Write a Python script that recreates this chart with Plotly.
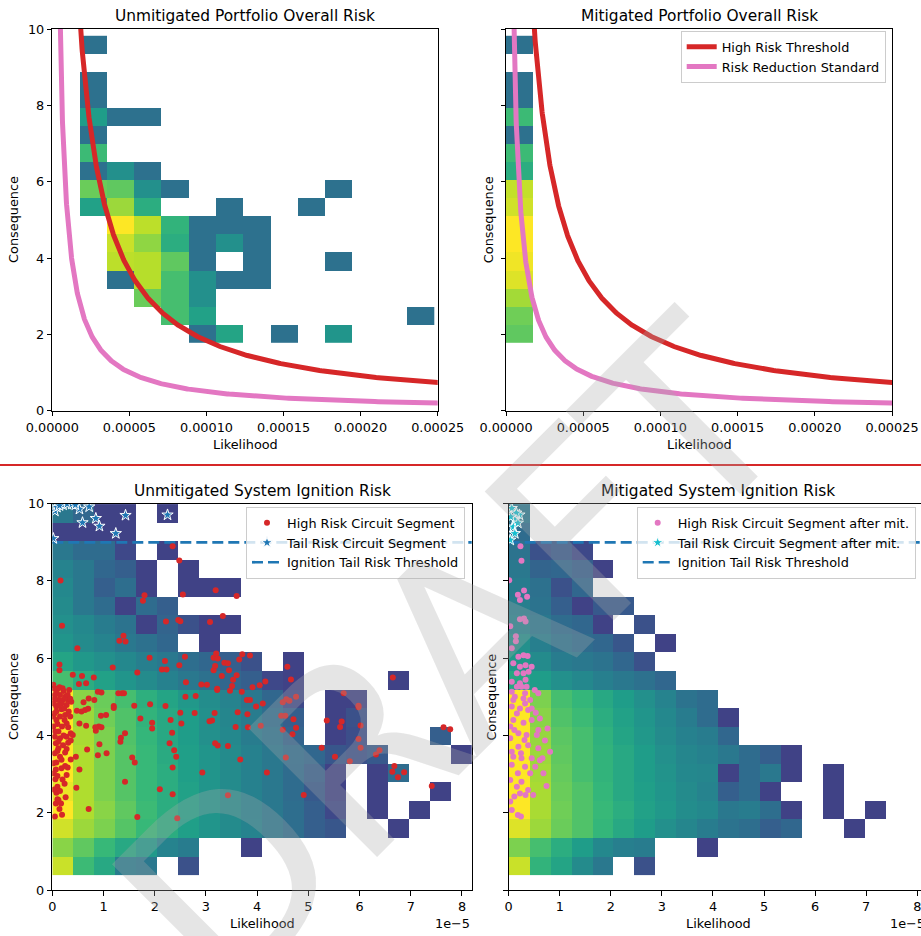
import numpy as np
import plotly.graph_objects as go

W, H = 921, 936
FONT = "DejaVu Sans"
N = None

# ---------------- data ----------------
# Portfolio 2D histogram grid (likelihood x consequence)
PORTFOLIO_BIN_W = 1.768e-5
PORTFOLIO_Y0 = 1.79
PORTFOLIO_BIN_H = 0.4725
# colour level (viridis position) per cell, rows listed top -> bottom
UNMIT_PORTFOLIO = [
    [N, .37, N, N, N, N, N, N, N, N, N, N, N, N],
    [N, N, N, N, N, N, N, N, N, N, N, N, N, N],
    [N, .37, N, N, N, N, N, N, N, N, N, N, N, N],
    [N, .37, N, N, N, N, N, N, N, N, N, N, N, N],
    [N, .55, .37, .37, N, N, N, N, N, N, N, N, N, N],
    [N, .37, N, N, N, N, N, N, N, N, N, N, N, N],
    [N, .68, N, N, N, N, N, N, N, N, N, N, N, N],
    [N, .37, .50, .37, N, N, N, N, N, N, N, N, N, N],
    [N, .77, .75, .50, .37, N, N, N, N, N, .37, N, N, N],
    [N, .57, .85, .62, N, N, .37, N, N, .37, N, N, N, N],
    [N, N, 1.0, .90, .65, .37, .37, .37, N, N, N, N, N, N],
    [N, N, .92, .83, .62, .37, .50, .37, N, N, N, N, N, N],
    [N, N, .90, .89, .75, .37, N, .37, N, N, .37, N, N, N],
    [N, N, .37, .89, .70, .50, .37, .37, N, N, N, N, N, N],
    [N, N, N, .77, .70, .50, N, N, N, N, N, N, N, N],
    [N, N, N, N, .70, .57, N, N, N, N, N, N, N, .37],
    [N, N, N, N, N, .37, .58, N, .37, N, .52, N, N, N],
]
MIT_PORTFOLIO = [.37, N, .37, .37, .68, .37, .68, .62, .91, .93, 1.0, 1.0, .98, .95, .86, .78, .75]

# threshold curves: consequence = K / likelihood
HIGH_RISK_K = 1.83e-4
RISK_REDUCTION_K = 5.0e-5

# Ignition 2D histogram grid
IGN_BIN_W = 0.41e-5
IGN_Y0 = 0.39
IGN_BIN_H = 0.48
UNMIT_IGNITION = [
    [.40, .33, .20, .20, N, .20, N, N, N, N, N, N, N, N, N, N, N, N, N, N],
    [.20, .20, .20, .20, N, N, N, N, N, N, N, N, N, N, N, N, N, N, N, N],
    [.40, .35, .35, .22, N, .20, N, N, N, N, N, N, N, N, N, N, N, N, N, N],
    [.45, .40, .33, .30, .20, N, .20, N, N, N, N, N, N, N, N, N, N, N, N, N],
    [.47, .40, .30, .36, .20, N, .20, .20, .20, N, N, N, N, N, N, N, N, N, N, N],
    [.48, .40, .35, .20, .35, .30, N, N, N, N, N, N, N, N, N, N, N, N, N, N],
    [.50, .47, .42, .38, .20, .32, .25, .20, .20, N, N, N, N, N, N, N, N, N, N, N],
    [.52, .48, .45, .40, .37, .33, N, .20, N, N, N, N, N, N, N, N, N, N, N, N],
    [.58, .53, .50, .47, .43, .40, .36, .33, .30, .25, N, .20, N, N, N, N, N, N, N, N],
    [.70, .62, .57, .52, .48, .44, .40, .37, .33, .30, .22, .20, N, N, N, N, .20, N, N, N],
    [1.0, .82, .77, .70, .63, .58, .53, .49, .45, .40, .33, .22, N, .20, .20, N, N, N, N, N],
    [1.0, .85, .78, .72, .65, .60, .55, .50, .46, .42, .36, .30, N, .20, .25, N, N, N, N, N],
    [1.0, .87, .80, .72, .66, .60, .55, .50, .47, .42, .38, .32, N, .20, .24, N, N, N, .30, N],
    [1.0, .88, .80, .73, .67, .61, .56, .52, .48, .44, .40, .36, .33, .27, .25, .28, N, N, N, .20],
    [1.0, .88, .80, .73, .67, .62, .56, .52, .48, .44, .40, .35, .30, .20, N, .20, .35, N, N, N],
    [.97, .88, .80, .73, .67, .62, .57, .52, .48, .44, .40, .35, .28, .20, N, .20, N, N, .20, N],
    [1.0, .88, .82, .75, .68, .62, .57, .52, .48, .44, .40, .36, .30, .22, N, .20, N, .20, N, N],
    [.93, .85, .80, .73, .67, .62, .56, .52, .48, .45, .40, .36, .30, .27, N, N, .20, N, N, N],
    [.82, .75, .67, .60, .54, .45, .42, N, N, .20, N, N, N, N, N, N, N, N, N, N],
    [.92, .68, .60, .42, .40, N, .25, N, N, N, N, N, N, N, N, N, N, N, N, N],
]
MIT_IGNITION = [
    [.40, N, N, N, N, N, N, N, N, N, N, N, N, N, N, N, N, N, N, N],
    [.35, N, N, N, N, N, N, N, N, N, N, N, N, N, N, N, N, N, N, N],
    [.38, .25, .28, .22, N, N, N, N, N, N, N, N, N, N, N, N, N, N, N, N],
    [.40, .32, .33, .30, .20, N, N, N, N, N, N, N, N, N, N, N, N, N, N, N],
    [.42, .37, .25, .33, N, N, N, N, N, N, N, N, N, N, N, N, N, N, N, N],
    [.43, .38, .30, .20, .28, .28, N, N, N, N, N, N, N, N, N, N, N, N, N, N],
    [.45, .40, .35, .33, .20, N, .25, N, N, N, N, N, N, N, N, N, N, N, N, N],
    [.50, .43, .38, .35, .33, .27, N, .20, N, N, N, N, N, N, N, N, N, N, N, N],
    [.53, .48, .42, .40, .38, .33, .25, N, N, N, N, N, N, N, N, N, N, N, N, N],
    [.60, .55, .50, .47, .43, .40, .37, .33, N, N, N, N, N, N, N, N, N, N, N, N],
    [1.0, .80, .70, .66, .60, .55, .50, .45, .38, .35, N, N, N, N, N, N, N, N, N, N],
    [1.0, .82, .72, .68, .62, .57, .52, .47, .42, .35, .20, N, N, N, N, N, N, N, N, N],
    [1.0, .84, .74, .70, .64, .58, .53, .48, .44, .42, .33, N, N, N, N, N, N, N, N, N],
    [1.0, .85, .75, .70, .65, .60, .55, .50, .46, .44, .40, .35, .30, .20, N, N, N, N, N, N],
    [1.0, .86, .76, .70, .65, .60, .55, .51, .47, .46, .20, .35, .40, .20, N, .20, N, N, N, N],
    [1.0, .87, .77, .72, .66, .60, .56, .52, .48, .45, .30, .35, .20, N, N, .20, N, N, N, N],
    [1.0, .87, .78, .72, .67, .62, .57, .53, .49, .47, .40, .42, .36, .20, N, .20, N, .20, N, N],
    [.95, .85, .77, .72, .66, .60, .55, .50, .46, .42, .38, .36, .30, .33, N, N, .20, N, N, N],
    [.80, .70, .62, .55, .47, .43, .42, N, N, .20, N, N, N, N, N, N, N, N, N, N],
    [.92, .65, .58, .48, .40, N, .25, N, N, N, N, N, N, N, N, N, N, N, N, N],
]

TAIL_RISK_THRESHOLD = 9.0
LIKELIHOOD_UNIT = 1e-5  # ignition likelihood values below are in units of 1e-5

HIGH_RISK_SEGMENTS = [
    (2.35, 8.90), (2.48, 8.53), (0.16, 8.01), (2.55, 7.65), (3.19, 7.76), (3.60, 7.61), (1.80, 7.63),
    (1.77, 7.49), (0.19, 6.84), (2.22, 6.95), (2.46, 6.99), (2.50, 6.96), (3.08, 6.94), (3.33, 7.09),
    (1.31, 6.45), (1.39, 6.58), (1.43, 6.43), (0.49, 6.26), (0.14, 5.84), (0.14, 5.69), (1.18, 5.76),
    (1.90, 6.01), (2.20, 5.93), (2.14, 5.71), (2.23, 5.71), (2.48, 5.82), (2.59, 6.04), (3.15, 6.01),
    (3.20, 6.12), (3.23, 5.99), (3.15, 5.69), (3.18, 5.80), (3.36, 5.88), (3.43, 5.87), (3.45, 5.69),
    (3.31, 5.54), (3.60, 5.56), (3.53, 5.44), (3.51, 5.28), (3.47, 5.16), (3.65, 5.97), (3.71, 6.10),
    (3.86, 6.07), (3.70, 5.13), (3.80, 4.92), (3.86, 4.92), (3.91, 5.25), (4.05, 5.30), (4.16, 5.40),
    (3.98, 4.75), (4.11, 4.83), (4.07, 4.25), (3.81, 4.55), (3.82, 4.21), (3.62, 4.60), (3.58, 4.22),
    (3.67, 3.38), (3.43, 3.73), (3.43, 2.45), (2.93, 3.04), (3.18, 3.80), (3.23, 3.74), (3.17, 4.58),
    (3.12, 4.39), (3.07, 4.37), (3.22, 5.18), (3.22, 5.21), (3.02, 5.31), (2.91, 5.32), (2.80, 5.02),
    (2.60, 5.00), (2.61, 5.38), (2.78, 4.58), (2.50, 4.59), (2.52, 4.31), (2.31, 4.40), (2.21, 4.76),
    (1.91, 4.81), (1.95, 4.33), (1.95, 4.18), (1.72, 4.44), (2.34, 4.07), (2.29, 3.80), (2.38, 3.62),
    (2.42, 3.45), (2.35, 3.17), (2.10, 2.61), (2.35, 2.48), (2.44, 1.86), (1.66, 1.89), (1.60, 4.77),
    (1.66, 5.63), (1.42, 4.06), (1.34, 3.94), (1.33, 3.84), (1.42, 2.80), (1.56, 3.43), (1.61, 3.30),
    (1.20, 4.76), (1.20, 4.71), (1.29, 5.09), (1.36, 5.09), (1.40, 5.09), (1.05, 4.53), (0.95, 4.51),
    (0.91, 4.23), (0.85, 4.12), (0.84, 4.21), (0.96, 4.21), (0.92, 3.77), (0.89, 3.49), (1.06, 3.54),
    (0.89, 5.13), (0.96, 5.11), (0.82, 4.92), (0.81, 5.50), (0.61, 4.86), (0.71, 4.96), (0.58, 5.54),
    (0.66, 5.35), (0.52, 5.33), (0.40, 5.57), (0.48, 4.64), (0.57, 4.62), (0.64, 4.66), (0.70, 4.69),
    (0.53, 4.31), (0.66, 4.25), (0.68, 3.64), (0.46, 3.45), (0.53, 3.12), (0.47, 2.65), (0.71, 2.10),
    (0.36, 3.38), (0.19, 1.95), (0.05, 1.90), (0.07, 2.24), (0.10, 2.35), (0.08, 2.52), (0.15, 2.56),
    (0.10, 2.67), (0.20, 2.86), (0.06, 2.87), (0.28, 2.98), (0.07, 3.12), (0.25, 3.21), (0.30, 3.17),
    (0.08, 3.30), (0.15, 3.45), (0.25, 3.56), (0.05, 3.54), (0.12, 3.67), (0.21, 3.75), (0.31, 3.81),
    (0.36, 3.87), (0.07, 3.80), (0.15, 3.93), (0.05, 3.97), (0.28, 3.97), (0.12, 4.10), (0.36, 4.06),
    (0.40, 4.01), (0.02, 4.23), (0.19, 4.23), (0.31, 4.21), (0.08, 4.40), (0.15, 4.49), (0.25, 4.53),
    (0.35, 4.49), (0.04, 4.57), (0.18, 4.68), (0.08, 4.75), (0.28, 4.79), (0.03, 4.83), (0.12, 4.92),
    (0.21, 4.92), (0.31, 4.92), (0.37, 4.87), (0.05, 5.05), (0.15, 5.05), (0.25, 5.00), (0.33, 5.18),
    (0.04, 5.22), (0.14, 5.25), (0.20, 5.22), (0.02, 5.31), (0.08, 5.13), (0.18, 4.83), (0.08, 4.62),
    (0.02, 4.49), (0.28, 4.31), (0.12, 3.84), (0.02, 3.28), (0.18, 3.37), (0.03, 3.02), (0.12, 2.33),
    (0.17, 2.24), (0.10, 5.20), (0.22, 5.15), (0.30, 5.05), (0.35, 4.95), (0.05, 4.95), (0.13, 4.78),
    (0.23, 4.70), (0.32, 4.62), (0.10, 4.30), (0.24, 4.40), (0.06, 4.10), (0.22, 4.00), (0.10, 3.60),
    (0.28, 3.65), (0.18, 3.15), (0.10, 2.95), (0.24, 2.75), (0.14, 2.10), (0.04, 2.60), (0.26, 2.40),
    (4.59, 5.78), (4.66, 5.45), (4.50, 4.86), (4.57, 4.94), (4.63, 4.90), (4.76, 5.00), (4.47, 4.51),
    (4.55, 4.51), (4.71, 4.42), (4.76, 4.20), (4.50, 4.15), (4.69, 4.03), (4.56, 3.43), (4.91, 2.46),
    (5.26, 3.68), (5.36, 4.39), (5.52, 3.45), (5.62, 4.22), (5.65, 4.36), (5.69, 5.09), (5.81, 3.33),
    (5.98, 4.77), (5.98, 4.73), (6.02, 4.26), (5.98, 3.91), (6.02, 3.68), (6.32, 3.51), (6.39, 3.62),
    (6.65, 5.50), (6.64, 3.06), (6.68, 3.21), (6.75, 2.92), (6.87, 3.05), (7.41, 2.69), (7.64, 4.21),
    (7.77, 4.16), (4.19, 3.04),
]
TAIL_RISK_SEGMENTS = [
    (0.05, 9.81), (0.09, 9.91), (0.21, 9.97), (0.29, 9.99), (0.38, 9.99), (0.53, 9.86), (0.72, 9.92),
    (0.59, 9.51), (0.85, 9.62), (0.92, 9.42), (1.24, 9.23), (1.43, 9.70), (2.25, 9.71), (0.02, 9.10),
    (0.14, 9.95), (0.45, 9.97),
]
HIGH_RISK_AFTER_MIT = [
    (0.23, 8.90), (0.25, 8.52), (0.01, 8.02), (0.18, 7.64), (0.30, 7.75), (0.36, 7.59), (0.22, 7.51),
    (0.03, 6.83), (0.22, 7.01), (0.30, 7.03), (0.33, 6.95), (0.14, 6.57), (0.14, 6.44), (0.06, 6.26),
    (0.09, 5.87), (0.19, 6.04), (0.29, 6.08), (0.37, 6.06), (0.22, 5.78), (0.33, 5.82), (0.45, 5.78),
    (0.16, 5.61), (0.29, 5.61), (0.39, 5.65), (0.06, 5.39), (0.22, 5.35), (0.33, 5.44), (0.58, 5.09),
    (0.12, 5.00), (0.29, 4.96), (0.42, 4.92), (0.06, 4.75), (0.22, 4.70), (0.38, 4.66), (0.53, 4.59),
    (0.09, 4.40), (0.29, 4.33), (0.45, 4.40), (0.61, 4.44), (0.76, 4.18), (0.19, 4.06), (0.35, 4.01),
    (0.55, 4.01), (0.03, 3.93), (0.19, 3.71), (0.38, 3.75), (0.58, 3.67), (0.81, 3.58), (0.09, 3.45),
    (0.25, 3.41), (0.45, 3.41), (0.66, 3.41), (0.06, 3.24), (0.32, 3.19), (0.52, 3.19), (0.68, 3.02),
    (0.18, 3.02), (0.42, 3.02), (0.03, 2.85), (0.25, 2.80), (0.74, 2.69), (0.16, 2.67), (0.22, 2.50),
    (0.48, 2.46), (0.33, 2.46), (0.03, 2.29), (0.18, 1.94), (0.24, 1.90), (0.06, 2.07), (0.09, 4.92),
    (0.16, 4.57), (0.03, 4.23), (0.32, 5.09), (0.25, 5.26), (0.16, 5.26), (0.35, 5.26), (0.51, 5.18),
    (0.06, 5.13), (0.32, 4.83), (0.45, 4.70), (0.11, 4.14), (0.31, 3.88), (0.24, 3.54), (0.06, 3.58),
    (0.61, 3.36), (0.38, 2.59), (0.11, 2.42), (0.58, 4.14), (0.71, 3.87),
]
TAIL_RISK_AFTER_MIT = [
    (0.06, 9.88), (0.21, 9.71), (0.12, 9.58), (0.09, 9.40), (0.12, 9.23), (0.03, 9.06), (0.15, 9.76),
    (0.04, 9.66), (0.18, 9.50),
]

PORTFOLIO_XTICKS = [0, 5e-5, 1e-4, 1.5e-4, 2e-4, 2.5e-4]
PORTFOLIO_XTICKTEXT = ["0.00000", "0.00005", "0.00010", "0.00015", "0.00020", "0.00025"]
IGN_XTICKS = [0, 1, 2, 3, 4, 5, 6, 7, 8]
Y_TICKS = [0, 2, 4, 6, 8, 10]

# ---------------- helpers ----------------
def fx(p):
    return p / W

def fy(p):
    return 1 - p / H

RED = "#d62728"
PINK = "#e377c2"
BLUE = "#1f77b4"
CYAN = "#17becf"

top_x_edges = [PORTFOLIO_BIN_W * i for i in range(len(UNMIT_PORTFOLIO[0]) + 1)]
top_y_edges = [PORTFOLIO_Y0 + PORTFOLIO_BIN_H * i for i in range(len(UNMIT_PORTFOLIO) + 1)]
ign_x_edges = [IGN_BIN_W * i for i in range(len(UNMIT_IGNITION[0]) + 1)]
ign_y_edges = [IGN_Y0 + IGN_BIN_H * i for i in range(len(UNMIT_IGNITION) + 1)]

fig = go.Figure()

def heat(z, xe, ye, xa, ya):
    return go.Heatmap(z=z, x=xe, y=ye, colorscale="Viridis", zmin=0, zmax=1,
                      showscale=False, hoverinfo="skip", xaxis=xa, yaxis=ya)

# --- top left
fig.add_trace(heat(UNMIT_PORTFOLIO[::-1], top_x_edges, top_y_edges, "x", "y"))
# --- top right
fig.add_trace(heat([[v] for v in MIT_PORTFOLIO[::-1]], top_x_edges[:2], top_y_edges, "x2", "y2"))

def curve(k):
    xs = np.geomspace(k / 12.0, 2.6e-4, 400)
    return xs, k / xs

for xa, ya, show in (("x", "y", False), ("x2", "y2", True)):
    cx, cy = curve(HIGH_RISK_K)
    fig.add_trace(go.Scatter(x=cx, y=cy, mode="lines", line=dict(color=RED, width=5),
                             name="High Risk Threshold", showlegend=show, legend="legend",
                             xaxis=xa, yaxis=ya, hoverinfo="skip"))
    cx, cy = curve(RISK_REDUCTION_K)
    fig.add_trace(go.Scatter(x=cx, y=cy, mode="lines", line=dict(color=PINK, width=5),
                             name="Risk Reduction Standard", showlegend=show, legend="legend",
                             xaxis=xa, yaxis=ya, hoverinfo="skip"))

# --- bottom left
fig.add_trace(heat(UNMIT_IGNITION[::-1], ign_x_edges, ign_y_edges, "x3", "y3"))
# --- bottom right
fig.add_trace(heat(MIT_IGNITION[::-1], ign_x_edges, ign_y_edges, "x4", "y4"))

def pts(lst):
    return [p[0] * LIKELIHOOD_UNIT for p in lst], [p[1] for p in lst]

for xa, ya, lg, hr, tr, hr_name, tr_name, hr_col, tr_col in (
    ("x3", "y3", "legend2", HIGH_RISK_SEGMENTS, TAIL_RISK_SEGMENTS,
     "High Risk Circuit Segment", "Tail Risk Circuit Segment", RED, BLUE),
    ("x4", "y4", "legend3", HIGH_RISK_AFTER_MIT, TAIL_RISK_AFTER_MIT,
     "High Risk Circuit Segment after mit.", "Tail Risk Circuit Segment after mit.", PINK, CYAN),
):
    fig.add_trace(go.Scatter(x=[0, 9e-5], y=[TAIL_RISK_THRESHOLD] * 2, mode="lines",
                             line=dict(color=BLUE, width=2.7, dash="11px,5px"),
                             name="Ignition Tail Risk Threshold", legend=lg, legendrank=3,
                             xaxis=xa, yaxis=ya, hoverinfo="skip"))
    px_, py_ = pts(hr)
    fig.add_trace(go.Scatter(x=px_, y=py_, mode="markers", marker=dict(color=hr_col, size=6),
                             name=hr_name, legend=lg, legendrank=1, xaxis=xa, yaxis=ya, hoverinfo="skip"))
    px_, py_ = pts(tr)
    fig.add_trace(go.Scatter(x=px_, y=py_, mode="markers",
                             marker=dict(color=tr_col, size=8.5, symbol="star",
                                         line=dict(color="white", width=1)),
                             name=tr_name, legend=lg, legendrank=2, xaxis=xa, yaxis=ya, hoverinfo="skip"))

# ---------------- layout ----------------
tickfont = dict(family=FONT, size=12.85, color="black")
ax = dict(showline=True, linecolor="black", linewidth=1, mirror=True, ticks="outside",
          ticklen=4.5, tickwidth=1, tickcolor="black", showgrid=False, zeroline=False,
          tickfont=tickfont, fixedrange=True, automargin=False)

TOP_Y = [fy(410.7), fy(29)]
BOT_Y = [fy(890), fy(503.7)]

legend_style = dict(bgcolor="rgba(255,255,255,0.8)", bordercolor="#cccccc", borderwidth=1,
                    font=dict(family=FONT, size=12.85, color="black"), yanchor="top")

fig.update_layout(
    width=W, height=H,
    margin=dict(l=0, r=0, t=0, b=0, autoexpand=False),
    paper_bgcolor="white", plot_bgcolor="white",
    font=dict(family=FONT, size=12.85, color="black"),
    xaxis=dict(ax, domain=[fx(52.3), fx(437.7)], range=[0, 2.5e-4], anchor="y",
               tickvals=PORTFOLIO_XTICKS, ticktext=PORTFOLIO_XTICKTEXT),
    yaxis=dict(ax, domain=TOP_Y, range=[0, 10], anchor="x", tickvals=Y_TICKS),
    xaxis2=dict(ax, domain=[fx(506), fx(892)], range=[0, 2.5e-4], anchor="y2",
                tickvals=PORTFOLIO_XTICKS, ticktext=PORTFOLIO_XTICKTEXT),
    yaxis2=dict(ax, domain=TOP_Y, range=[0, 10], anchor="x2", tickvals=Y_TICKS, showticklabels=False),
    xaxis3=dict(ax, domain=[fx(52.3), fx(471.7)], range=[0, 8.19e-5], anchor="y3",
                tickvals=[t * LIKELIHOOD_UNIT for t in IGN_XTICKS], ticktext=[str(t) for t in IGN_XTICKS]),
    yaxis3=dict(ax, domain=BOT_Y, range=[0, 10], anchor="x3", tickvals=Y_TICKS),
    xaxis4=dict(ax, domain=[fx(508.7), 1.0], range=[0, (921 - 508.7) / 51.07 * LIKELIHOOD_UNIT], anchor="y4",
                tickvals=[t * LIKELIHOOD_UNIT for t in IGN_XTICKS], ticktext=[str(t) for t in IGN_XTICKS],
                ticklabeloverflow="allow"),
    yaxis4=dict(ax, domain=BOT_Y, range=[0, 10], anchor="x4", tickvals=Y_TICKS, showticklabels=False,
                mirror=False),
    legend=dict(legend_style, x=fx(885.7), y=fy(31), xanchor="right"),
    legend2=dict(legend_style, x=fx(465), y=fy(507), xanchor="right"),
    legend3=dict(legend_style, x=fx(636.7), y=fy(507), xanchor="left"),
)

ann = []
def text(t, x, y, size=12.85, angle=0, xanchor="center", yanchor="middle", color="black"):
    ann.append(dict(text=t, x=fx(x), y=fy(y), xref="paper", yref="paper", showarrow=False,
                    xanchor=xanchor, yanchor=yanchor, textangle=angle,
                    font=dict(family=FONT, size=size, color=color)))

text("Unmitigated Portfolio Overall Risk", 245, 15.7, size=15.4)
text("Mitigated Portfolio Overall Risk", 699, 15.7, size=15.4)
text("Unmitigated System Ignition Risk", 262, 490.7, size=15.4)
text("Mitigated System Ignition Risk", 718, 490.7, size=15.4)
text("Likelihood", 245, 444)
text("Likelihood", 699, 444)
text("Likelihood", 262, 923.3)
text("Likelihood", 718, 923.3)
text("Consequence", 14, 219.9, angle=-90)
text("Consequence", 489.3, 219.9, angle=-90)
text("Consequence", 14, 696.9, angle=-90)
text("Consequence", 491.7, 696.9, angle=-90)
text("1e\u22125", 471.7, 923, xanchor="right")
text("1e\u22125", 927, 923, xanchor="right")
# watermark
text("DRAFT", 452, 659, size=250, angle=-45, color="rgba(170,170,170,0.3)")

fig.update_layout(annotations=ann)
fig.add_shape(type="line", xref="paper", yref="paper", x0=0, x1=1, y0=fy(465), y1=fy(465),
              line=dict(color=RED, width=2))

fig.write_html("out.html")
